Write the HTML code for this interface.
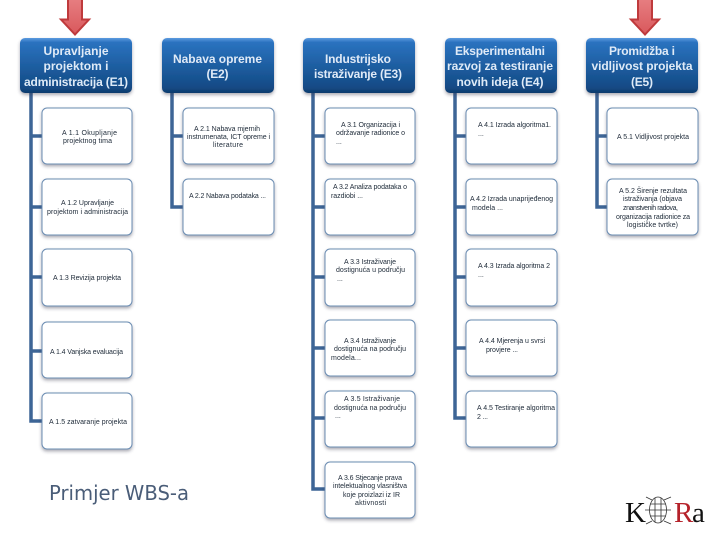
<!DOCTYPE html>
<html><head><meta charset="utf-8"><style>
html,body{margin:0;padding:0;background:#fff;width:720px;height:540px;overflow:hidden}
svg{display:block}
.h{font:bold 12px "Liberation Sans",sans-serif;fill:#dfeaf7;text-anchor:middle}
.c{font:7px "Liberation Sans",sans-serif;fill:#1e2a38}
</style></head><body>
<svg width="720" height="540" viewBox="0 0 720 540" xmlns="http://www.w3.org/2000/svg">
<defs>
<linearGradient id="hg" x1="0" y1="0" x2="0" y2="1"><stop offset="0" stop-color="#5c9be0"/><stop offset=".08" stop-color="#2a72bf"/><stop offset=".55" stop-color="#1d5c9e"/><stop offset=".9" stop-color="#134a85"/><stop offset="1" stop-color="#0f3b6c"/></linearGradient>
<linearGradient id="ar" x1="0" y1="0" x2="0" y2="1"><stop offset="0" stop-color="#e77f82"/><stop offset="1" stop-color="#d9585c"/></linearGradient>
<filter id="sh" x="-10%" y="-10%" width="120%" height="125%"><feDropShadow dx="0" dy="2" stdDeviation="1.5" flood-color="#334" flood-opacity=".4"/></filter>
<filter id="b"><feGaussianBlur stdDeviation="0.35"/></filter>
</defs>

<!-- arrows -->
<path d="M68-2H82V19.500H89L75 34.500L61 19.500H68Z" fill="url(#ar)" stroke="#bf3a3c" stroke-width="2"/>
<path d="M638-2H652V19.500H659L645 34.500L631 19.500H638Z" fill="url(#ar)" stroke="#bf3a3c" stroke-width="2"/>

<!-- connectors -->
<g fill="none" stroke="#3d6596" stroke-width="3.500">
<path d="M31 93V421H42M31 136H42M31 207H42M31 277H42M31 351H42"/>
<path d="M172 93V207H183M172 136H183"/>
<path d="M313 93V489H325M313 136H325M313 207H325M313 277H325M313 348H325M313 418H325"/>
<path d="M455 93V418H466M455 136H466M455 207H466M455 277H466M455 348H466"/>
<path d="M597 93V207H607M597 136H607"/>
</g>

<!-- headers -->
<g fill="url(#hg)" filter="url(#sh)">
<rect x="20" y="38" width="112" height="55" rx="5"/>
<rect x="162" y="38" width="112" height="55" rx="5"/>
<rect x="303" y="38" width="112" height="55" rx="5"/>
<rect x="445" y="38" width="112" height="55" rx="5"/>
<rect x="586" y="38" width="112" height="55" rx="5"/>
</g>

<!-- child boxes -->
<g fill="#fff" stroke="#6a8cb2" stroke-width="1" filter="url(#sh)">
<rect x="42" y="108" width="90" height="56" rx="5"/><rect x="42" y="179" width="90" height="56" rx="5"/><rect x="42" y="249" width="90" height="57" rx="5"/><rect x="42" y="322" width="90" height="56" rx="5"/><rect x="42" y="393" width="90" height="56" rx="5"/>
<rect x="183" y="108" width="91" height="56" rx="5"/><rect x="183" y="179" width="91" height="56" rx="5"/>
<rect x="325" y="108" width="90" height="56" rx="5"/><rect x="325" y="179" width="90" height="56" rx="5"/><rect x="325" y="249" width="90" height="57" rx="5"/><rect x="325" y="320" width="90" height="56" rx="5"/><rect x="325" y="391" width="90" height="56" rx="5"/><rect x="325" y="462" width="90" height="56" rx="5"/>
<rect x="466" y="108" width="91" height="56" rx="5"/><rect x="466" y="179" width="91" height="56" rx="5"/><rect x="466" y="249" width="91" height="57" rx="5"/><rect x="466" y="320" width="91" height="56" rx="5"/><rect x="466" y="391" width="91" height="56" rx="5"/>
<rect x="607" y="108" width="91" height="56" rx="5"/><rect x="607" y="179" width="91" height="56" rx="5"/>
</g>

<!-- header text -->
<g filter="url(#b)">
<text class="h" x="76" y="55" textLength="65">Upravljanje</text>
<text class="h" x="76" y="70" textLength="65">projektom i</text>
<text class="h" x="76" y="86" textLength="104">administracija (E1)</text>
<text class="h" x="217.500" y="63" textLength="89">Nabava opreme</text>
<text class="h" x="217.500" y="78" textLength="22">(E2)</text>
<text class="h" x="358" y="63" textLength="66">Industrijsko</text>
<text class="h" x="358" y="78" textLength="88">istraživanje (E3)</text>
<text class="h" x="500" y="55" textLength="90">Eksperimentalni</text>
<text class="h" x="500" y="70" textLength="106">razvoj za testiranje</text>
<text class="h" x="500" y="86" textLength="87">novih ideja (E4)</text>
<text class="h" x="642" y="55" textLength="66">Promidžba i</text>
<text class="h" x="642" y="70" textLength="101">vidljivost projekta</text>
<text class="h" x="642" y="86" textLength="22">(E5)</text>
</g>

<!-- child text -->
<g filter="url(#b)">
<text class="c" x="62" y="135" textLength="55">A 1.1 Okupljanje</text>
<text class="c" x="63" y="143" textLength="49">projektnog tima</text>
<text class="c" x="61" y="205" textLength="53">A 1.2 Upravljanje</text>
<text class="c" x="47" y="214" textLength="81">projektom i administracija</text>
<text class="c" x="53" y="280" textLength="68">A 1.3 Revizija projekta</text>
<text class="c" x="50" y="354" textLength="73">A 1.4 Vanjska evaluacija</text>
<text class="c" x="49" y="424" textLength="78">A 1.5 zatvaranje projekta</text>

<text class="c" x="194" y="131" textLength="66">A 2.1 Nabava mjernih</text>
<text class="c" x="187" y="139" textLength="83">instrumenata, ICT opreme i</text>
<text class="c" x="213" y="147" textLength="30">literature</text>
<text class="c" x="189" y="198" textLength="77">A 2.2 Nabava podataka ...</text>

<text class="c" x="341" y="127" textLength="59">A 3.1 Organizacija i</text>
<text class="c" x="336" y="135" textLength="69">održavanje radionice o</text>
<text class="c" x="336" y="144">...</text>
<text class="c" x="333" y="189" textLength="74">A 3.2 Analiza podataka o</text>
<text class="c" x="331" y="198" textLength="32">razdiobi ...</text>
<text class="c" x="344" y="264" textLength="52">A 3.3 Istraživanje</text>
<text class="c" x="336" y="272" textLength="69">dostignuća u području</text>
<text class="c" x="337" y="281">...</text>
<text class="c" x="344" y="343" textLength="52">A 3.4 Istraživanje</text>
<text class="c" x="334" y="351" textLength="72">dostignuća na području</text>
<text class="c" x="331" y="360" textLength="30">modela...</text>
<text class="c" x="344" y="401" textLength="56">A 3.5 Istraživanje</text>
<text class="c" x="334" y="410" textLength="72">dostignuća na području</text>
<text class="c" x="335" y="418">...</text>
<text class="c" x="338" y="480" textLength="64">A 3.6 Stjecanje prava</text>
<text class="c" x="333" y="488" textLength="74">intelektualnog vlasništva</text>
<text class="c" x="343" y="497" textLength="57">koje proizlazi iz IR</text>
<text class="c" x="355" y="505" textLength="31">aktivnosti</text>

<text class="c" x="478" y="127" textLength="73">A 4.1 Izrada algoritma1.</text>
<text class="c" x="478" y="136">...</text>
<text class="c" x="470" y="201" textLength="83">A 4.2 Izrada unaprijeđenog</text>
<text class="c" x="472" y="210" textLength="31">modela ...</text>
<text class="c" x="478" y="268" textLength="72">A 4.3 Izrada algoritma 2</text>
<text class="c" x="478" y="277">...</text>
<text class="c" x="479" y="343" textLength="66">A 4.4 Mjerenja u svrsi</text>
<text class="c" x="486" y="352" textLength="32">provjere ...</text>
<text class="c" x="477" y="410" textLength="78">A 4.5 Testiranje algoritma</text>
<text class="c" x="477" y="419" textLength="11">2 ...</text>

<text class="c" x="617" y="139" textLength="72">A 5.1 Vidljivost projekta</text>
<text class="c" x="619" y="193" textLength="68">A 5.2 Širenje rezultata</text>
<text class="c" x="623" y="201" textLength="59">istraživanja (objava</text>
<text class="c" x="623" y="210" textLength="55">znanstvenih radova,</text>
<text class="c" x="616" y="219" textLength="74">organizacija radionice za</text>
<text class="c" x="627" y="227" textLength="51">logističke tvrtke)</text>
</g>

<!-- footer -->
<text x="49" y="500" font-family="'DejaVu Sans',sans-serif" font-size="20" fill="#4a5d78" textLength="140" lengthAdjust="spacingAndGlyphs">Primjer WBS-a</text>

<!-- logo -->
<text x="625" y="522" font-family="'Liberation Serif',serif" font-size="29" fill="#111">K</text>
<g fill="none" stroke="#333" stroke-width=".8">
<ellipse cx="658" cy="510" rx="8.500" ry="13"/>
<path d="M650 504H666M649.500 510H666.500M650 516H666M655 498V522M661 498V522M652 500L646 497M664 500L671 497M652 521L646 524M664 521L671 524M650 510L645 510M666 510L671 510"/>
</g>
<text x="674" y="522" font-family="'Liberation Serif',serif" font-size="29" fill="#b5222a">R</text>
<text x="692" y="522" font-family="'Liberation Serif',serif" font-size="29" fill="#111">a</text>
</svg>
</body></html>
